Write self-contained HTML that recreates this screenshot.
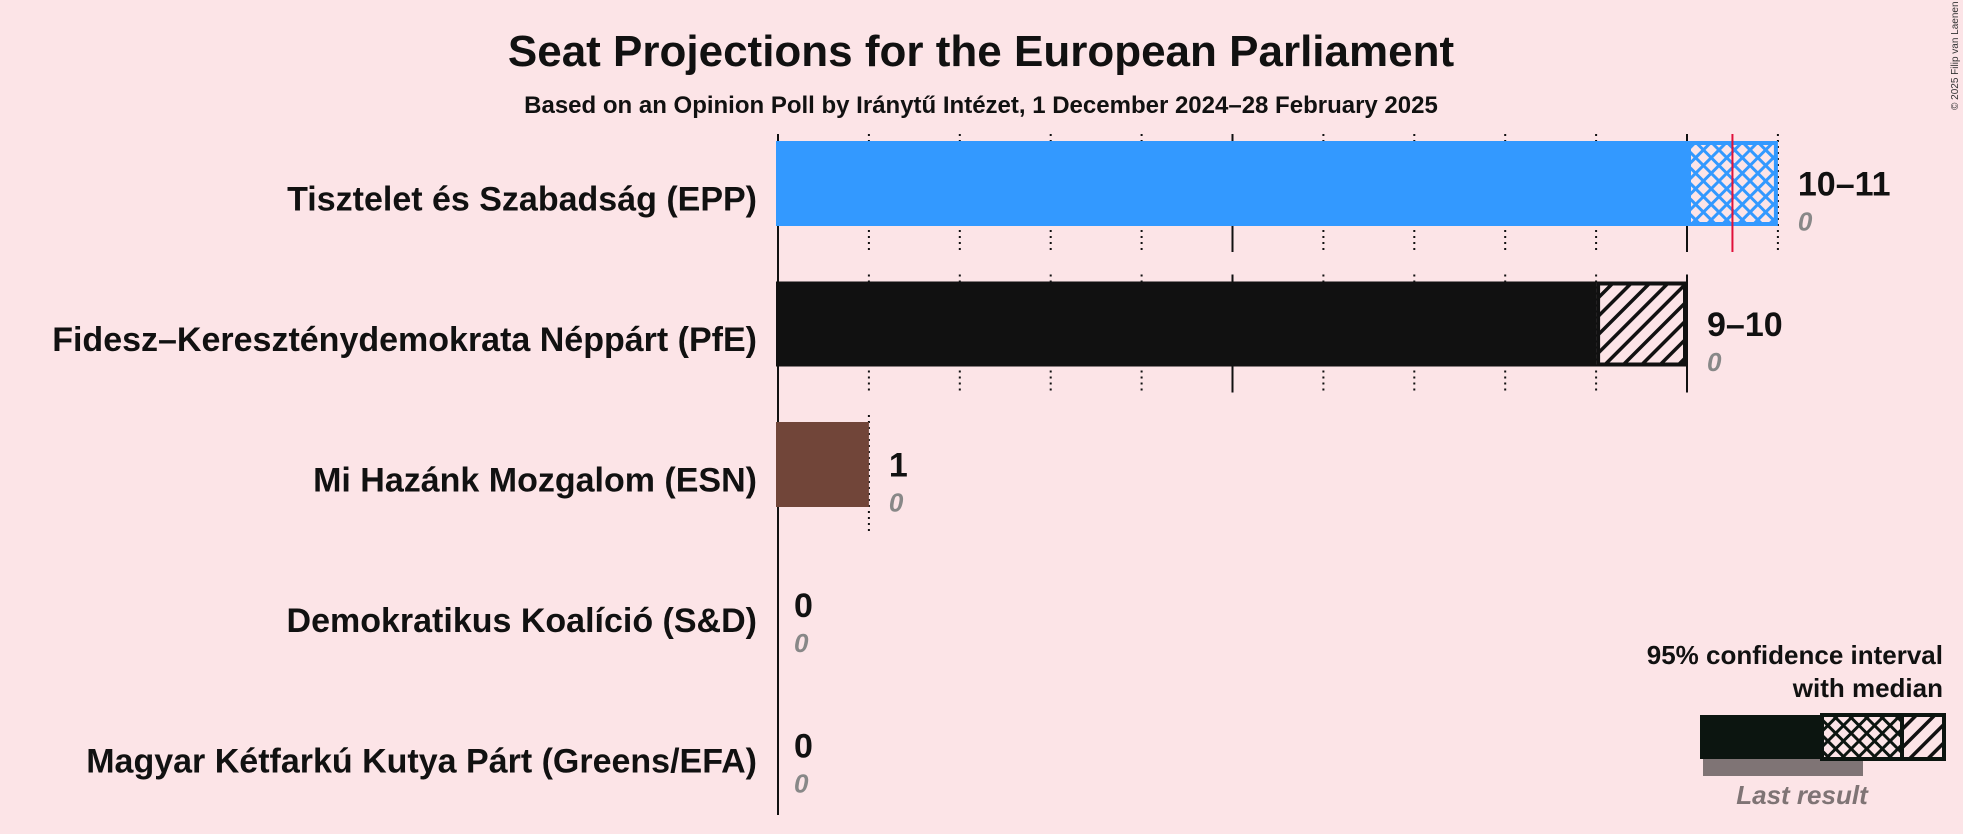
<!DOCTYPE html>
<html><head><meta charset="utf-8"><style>
body{margin:0;background:#fce4e7;}
svg{display:block;font-family:"Liberation Sans",sans-serif;}
</style></head><body>
<svg width="1963" height="834" viewBox="0 0 1963 834">
<defs>
<pattern id="xh-blue" width="11" height="11" patternUnits="userSpaceOnUse" patternTransform="rotate(45)">
<rect width="11" height="11" fill="#fce4e7"/><rect width="3" height="11" fill="#3399ff"/><rect width="11" height="3" fill="#3399ff"/></pattern>
<pattern id="xh-black" width="11" height="11" patternUnits="userSpaceOnUse" patternTransform="rotate(45)">
<rect width="11" height="11" fill="#fce4e7"/><rect width="3" height="11" fill="#0c1510"/><rect width="11" height="3" fill="#0c1510"/></pattern>
<pattern id="hatch" width="13" height="13" patternUnits="userSpaceOnUse" patternTransform="rotate(45)">
<rect width="13" height="13" fill="#fce4e7"/><rect width="3.5" height="13" fill="#111"/></pattern>
</defs>
<text x="981" y="66" text-anchor="middle" font-size="44" font-weight="bold" fill="#111">Seat Projections for the European Parliament</text>
<text x="981" y="113" text-anchor="middle" font-size="24" font-weight="bold" fill="#111">Based on an Opinion Poll by Iránytű Intézet, 1 December 2024–28 February 2025</text>
<text transform="translate(1958,110) rotate(-90)" font-size="10" fill="#333">© 2025 Filip van Laenen</text>
<g id="plot"></g>
<g>
<text x="1943" y="664" text-anchor="end" font-size="26" font-weight="bold" fill="#111">95% confidence interval</text>
<text x="1943" y="697" text-anchor="end" font-size="26" font-weight="bold" fill="#111">with median</text>
<rect x="1703" y="759" width="160" height="17" fill="#7f7475"/>
<rect x="1700" y="715" width="122" height="44" fill="#0c1510"/>
<rect x="1822" y="715" width="80" height="44" fill="url(#xh-black)" stroke="#0c1510" stroke-width="4"/>
<rect x="1902" y="715" width="42" height="44" fill="url(#hatch)" stroke="#0c1510" stroke-width="4"/>
<text x="1802" y="804" text-anchor="middle" font-size="26" font-style="italic" font-weight="bold" fill="#7f7475">Last result</text>
</g>
</svg>
<script>
const parties=["Tisztelet és Szabadság (EPP)","Fidesz–Kereszténydemokrata Néppárt (PfE)","Mi Hazánk Mozgalom (ESN)","Demokratikus Koalíció (S&D)","Magyar Kétfarkú Kutya Párt (Greens/EFA)"];
const lows=[10,9,1,0,0];
const highs=[11,10,1,0,0];
const medians=[10.5,null,null,null,null];
const lastResults=[0,0,0,0,0];
const colors=["#3399ff","#111111","#714539","#cc0000","#33aa33"];
const NS="http://www.w3.org/2000/svg";
const g=document.getElementById('plot');
const x0=778,unit=90.9,rowTop=141,pitch=140.5,bh=85;
const X=v=>x0+v*unit;
function el(t,a){const e=document.createElementNS(NS,t);for(const k in a)e.setAttribute(k,a[k]);g.appendChild(e);return e;}
parties.forEach((p,i)=>{
 const y=rowTop+i*pitch;
 for(let s=1;s<=highs[i];s++){
  const l=el('line',{x1:X(s),x2:X(s),y1:y-7,y2:y+bh+26,stroke:'#111','stroke-width':2,'stroke-dasharray':s%5==0?'none':'2 4'});
  
  
 }
});
const ax=el('line',{x1:x0,x2:x0,y1:134,y2:815,stroke:'#111','stroke-width':2});


parties.forEach((p,i)=>{
 const y=rowTop+i*pitch;
 const t=el('text',{x:757,y:y+bh/2+27,'text-anchor':'end','font-size':34,'font-weight':'bold',fill:'#111'});
 t.textContent=p;
 
 
 if(lows[i]>0){
  const r=el('rect',{x:X(0)-2,y:y,width:X(lows[i])-X(0)+2,height:bh,fill:colors[i]});
  
  
 }
 if(highs[i]>lows[i]){
  const blue=colors[i]!="#111111";
  const r=el('rect',{x:X(lows[i])+2,y:y+2,width:X(highs[i])-X(lows[i])-4,height:bh-4,fill:blue?'url(#xh-blue)':'url(#hatch)',stroke:colors[i],'stroke-width':4});
  
  
 }
 if(medians[i]!=null){
  const m=el('line',{x1:X(medians[i]),x2:X(medians[i]),y1:y-7,y2:y+bh+26,stroke:'#e0103a','stroke-width':2});
  
  
 }
 const lx=X(highs[i])+(highs[i]>0?20:16);
 const v=el('text',{x:lx,y:y+bh/2+12,'font-size':34,'font-weight':'bold',fill:'#111'});
 v.textContent=lows[i]==highs[i]?String(lows[i]):lows[i]+"–"+highs[i];
 
 
 const lr=el('text',{x:lx,y:y+bh/2+47,'font-size':26,'font-style':'italic','font-weight':'bold',fill:'#888'});
 lr.textContent=String(lastResults[i]);
 
 
});
</script>
</body></html>
